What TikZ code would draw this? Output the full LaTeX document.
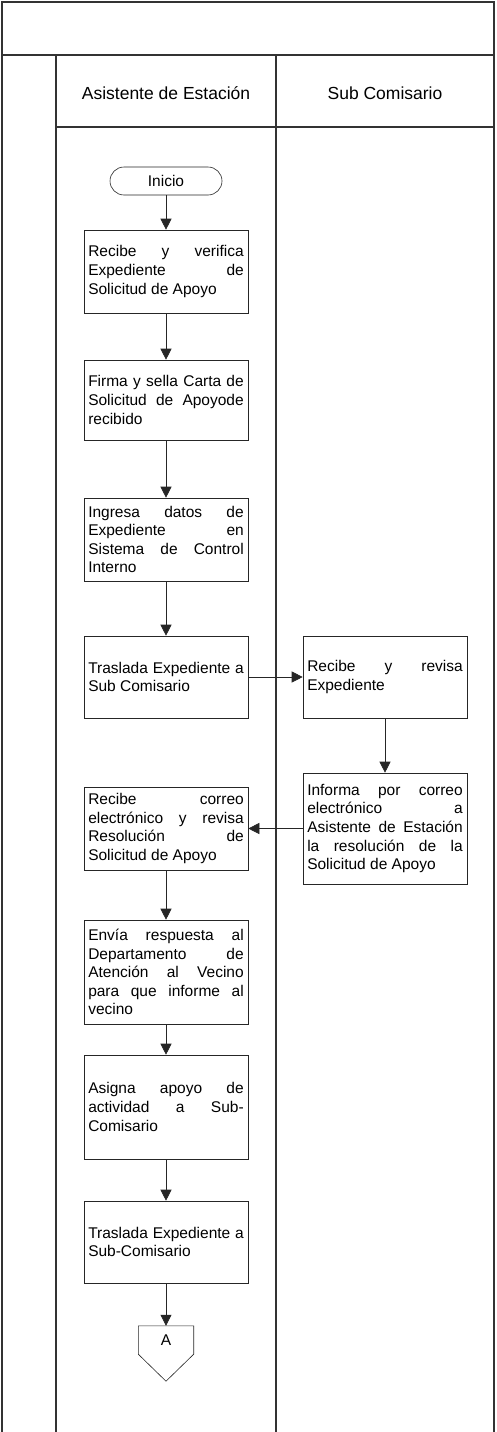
\documentclass[tikz,border=0pt]{standalone}
\usepackage{fontspec}
\setmainfont{Liberation Sans}
\usepackage{tikz}
\usetikzlibrary{positioning,arrows.meta,calc}
\hyphenpenalty=10000
\tolerance=10000
\newcommand\pasofont{\fontsize{15.5}{18.6}\selectfont\spaceskip=4.31pt plus 4pt\relax}
\tikzset{
  paso/.style={draw=black!85, line width=0.6pt, text width=155.5pt, inner xsep=4.25pt,
    inner ysep=2pt, align=justify},
  inicio/.style={draw=black!85, line width=0.6pt, rounded corners=14pt,
    minimum width=112pt, minimum height=28pt},
  arr/.style={-{Triangle[length=11pt,width=11pt]}, line width=0.6pt, black!85},
  marco/.style={line width=1.2pt, black!80},
  carril/.style={font=\fontsize{17.5}{21}\selectfont},
}

\begin{document}
\begin{tikzpicture}[x=1pt, y=-1pt, font=\pasofont]
    \useasboundingbox (0,0) rectangle (496,1432);
    \draw[marco] (2,1432) -- (2,2) -- (494,2) -- (494,1432);
    \draw[marco] (2,55) -- (494,55);
    \draw[marco] (56,55) -- (56,1432);
    \draw[marco] (276,55) -- (276,1432);
    \draw[marco] (56,127) -- (494,127);
    \node[carril] (asis) at (166,93) {Asistente de Estación};
    \node[carril] (subc) at (385,93) {Sub Comisario};
    \node[inicio] (ini) at (166,181) {Inicio};
    \node[paso, minimum height=83pt] (recibe) at (166,271.5) {Recibe y verifica Expediente de Solicitud de Apoyo};
    \node[paso, minimum height=80pt] (firma) at (166,400) {Firma y sella Carta de Solicitud de Apoyode recibido};
    \node[paso, minimum height=83pt] (ingresa) at (166,539.5) {Ingresa datos de Expediente en Sistema de Control Interno};
    \node[paso, minimum height=82pt] (traslada) at (166,677) {Traslada Expediente a Sub Comisario};
    \node[paso, minimum height=82pt] (revisa) at (385,677) {Recibe y revisa Expediente};
    \node[paso, minimum height=111pt] (informa) at (385,828.5) {Informa por correo electrónico a Asistente de Estación la resolución de la Solicitud de Apoyo};
    \node[paso, minimum height=83pt] (correo) at (166,828.5) {Recibe correo electrónico y revisa Resolución de Solicitud de Apoyo};
    \node[paso, minimum height=104pt] (envia) at (166,972) {Envía respuesta al Departamento de Atención al Vecino para que informe al vecino};
    \node[paso, minimum height=104pt] (asigna) at (166,1107) {Asigna apoyo de actividad a Sub-Comisario};
    \node[paso, minimum height=82pt] (trasub) at (166,1242) {Traslada Expediente a Sub-Comisario};
    \node[minimum width=55pt, minimum height=28pt, inner sep=0pt] (conA) at (166,1340) {A};
    \draw[line width=0.6pt, black!85] (conA.north west) -- (conA.north east) -- (conA.south east)
      -- ($(conA.south)+(0,27)$) -- (conA.south west) -- cycle;
    \draw[arr] (ini) -- (recibe);
    \draw[arr] (recibe) -- (firma);
    \draw[arr] (firma) -- (ingresa);
    \draw[arr] (ingresa) -- (traslada);
    \draw[arr] (traslada) -- (revisa);
    \draw[arr] (revisa) -- (informa);
    \draw[arr] (informa) -- (correo);
    \draw[arr] (correo) -- (envia);
    \draw[arr] (envia) -- (asigna);
    \draw[arr] (asigna) -- (trasub);
    \draw[arr] (trasub) -- (conA);
  \end{tikzpicture}
\end{document}
